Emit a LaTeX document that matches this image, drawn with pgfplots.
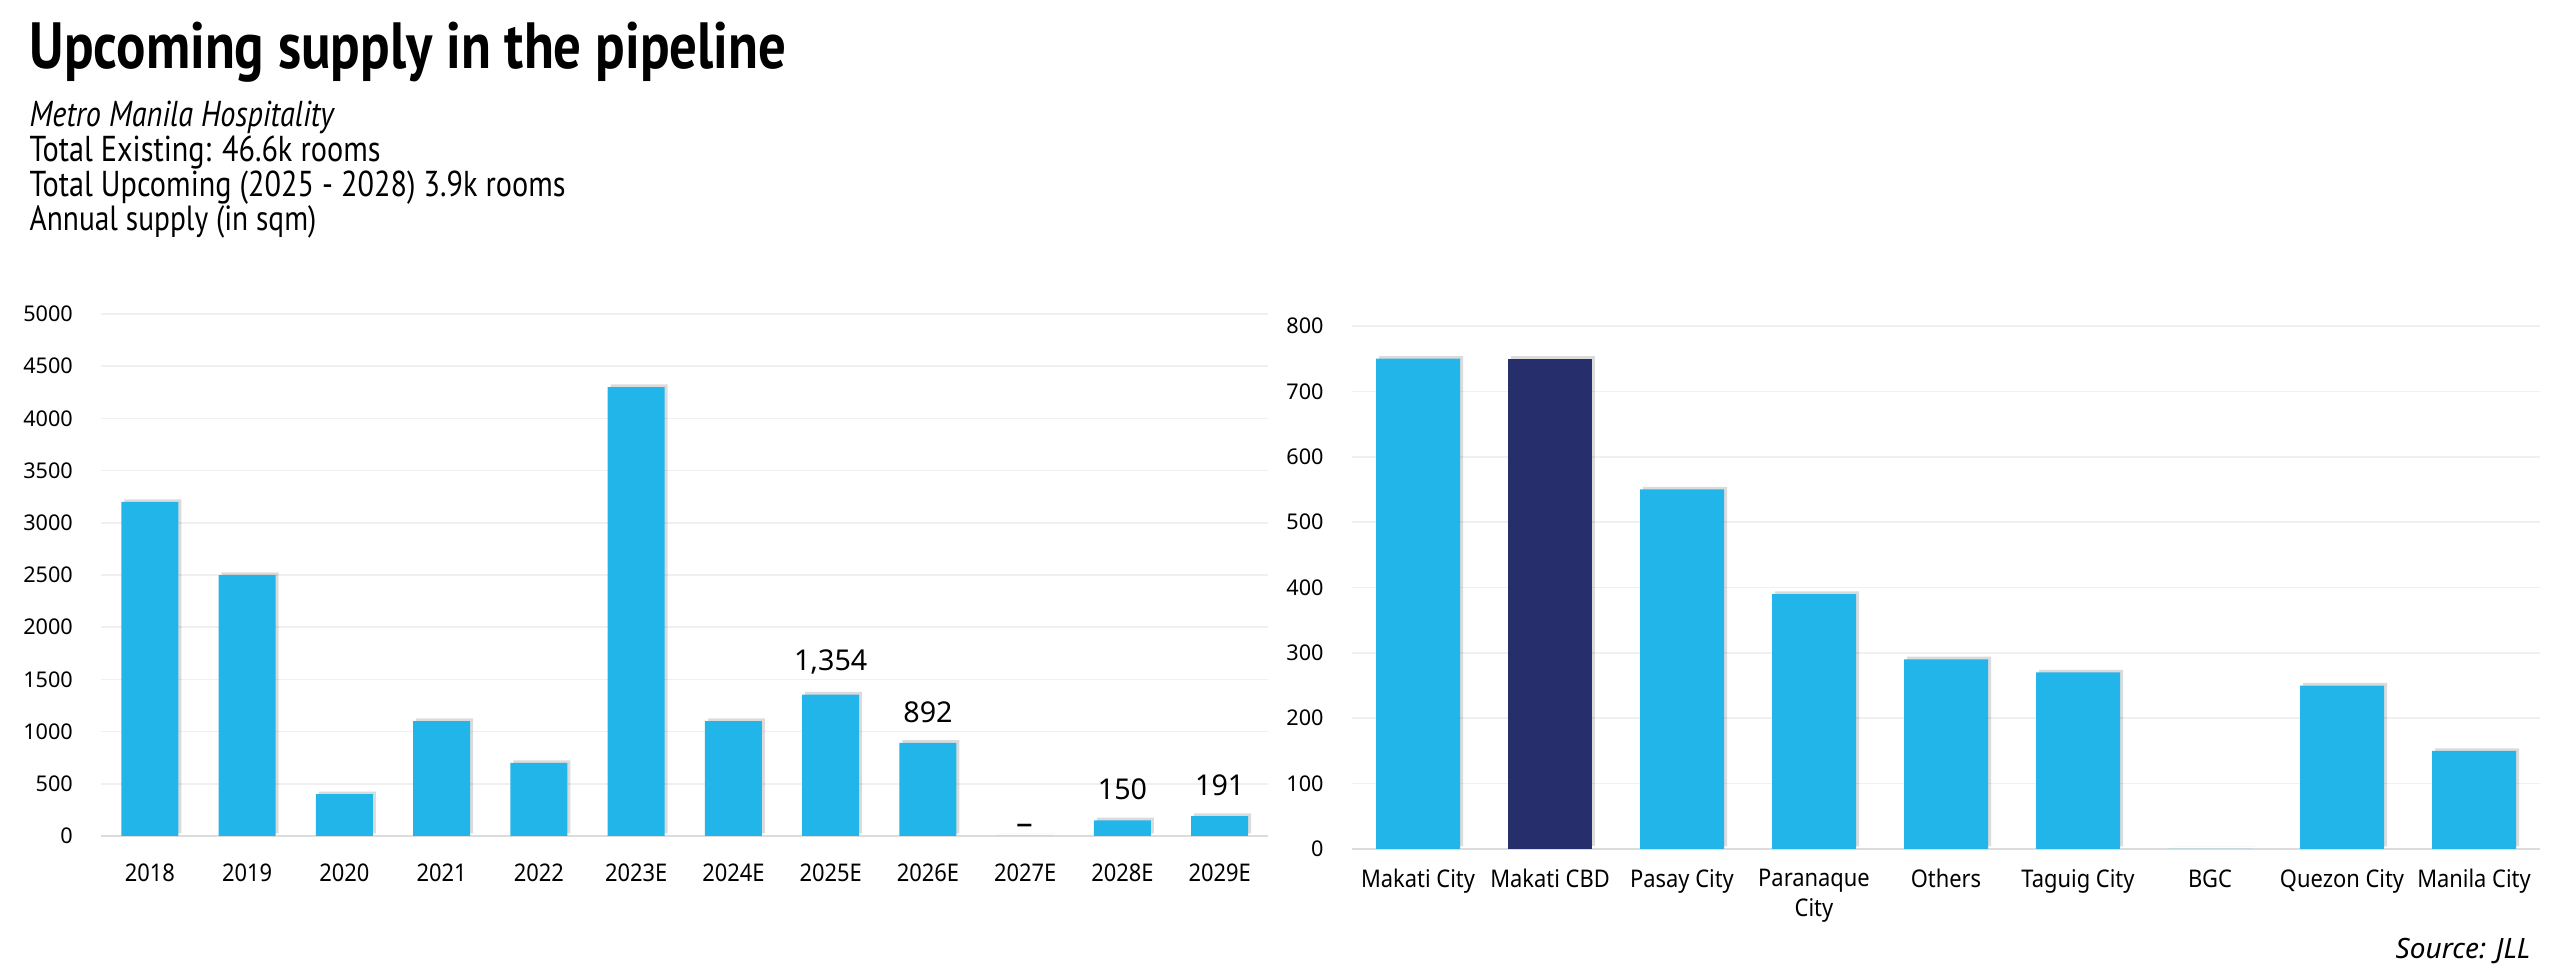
\documentclass[border=0pt]{standalone}
\usepackage{fontspec}
\setmainfont{Noto Sans}
\newfontfamily\condfont{PT Sans}[FakeStretch=0.84]
\newfontfamily\tickfont{Noto Sans}[FakeStretch=0.9]
\usepackage{pgfplots}
\pgfplotsset{compat=1.18}
\usetikzlibrary{shadows}

\definecolor{barblue}{RGB}{34,181,234}
\definecolor{navy}{RGB}{38,47,107}
\definecolor{gridgray}{RGB}{240,240,240}
\definecolor{basegray}{RGB}{220,220,220}

\pgfplotsset{
  supplybars/.style={
    scale only axis,
    anchor=south west,
    axis x line*=bottom, axis y line*=left,
    x axis line style={draw=basegray, line width=0.6pt},
    y axis line style={draw=none},
    ymajorgrids, grid style={draw=gridgray, line width=0.5pt},
    major tick length=0pt,
    yticklabel style={font=\fontsize{6.5}{7.6}\selectfont, xshift=-5pt, /pgf/number format/1000 sep={}},
    xticklabel style={font=\tickfont\fontsize{7.3}{8.8}\selectfont, align=center},
    /pgf/number format/assume math mode=true,
    scaled y ticks=false,
  },
  shadowbar/.style={
    ybar, bar shift=0pt, draw=none,
    drop shadow={shadow xshift=0.9pt, shadow yshift=0.8pt, opacity=0.14, fill=black},
  },
}

\begin{document}
\begin{tikzpicture}
\path[use as bounding box] (0,0) rectangle (768pt,-293.4pt);

% titles
\node[anchor=base west, inner sep=0pt] at (8.7pt,-20.5pt)
  {\condfont\bfseries\fontsize{19.6}{22}\selectfont Upcoming supply in the pipeline};
\node[anchor=base west, inner sep=0pt] at (8.7pt,-38pt)
  {\condfont\itshape\fontsize{10.8}{12}\selectfont Metro Manila Hospitality};
\node[anchor=base west, inner sep=0pt] at (8.7pt,-48.5pt)
  {\condfont\fontsize{10.8}{12}\selectfont Total Existing: 46.6k rooms};
\node[anchor=base west, inner sep=0pt] at (8.7pt,-59pt)
  {\condfont\fontsize{10.8}{12}\selectfont Total Upcoming (2025 - 2028) 3.9k rooms};
\node[anchor=base west, inner sep=0pt] at (8.7pt,-69.3pt)
  {\condfont\fontsize{10.5}{12}\selectfont Annual supply (in sqm)};

% left chart: annual supply
\begin{axis}[supplybars,
  at={(30.4pt,-250.8pt)},
  width=350.1pt, height=156.6pt,
  xmin=-0.5, xmax=11.5,
  ymin=0, ymax=5000, ytick={0,500,...,5000},
  xtick={0,...,11},
  xticklabels={2018,2019,2020,2021,2022,2023E,2024E,2025E,2026E,2027E,2028E,2029E},
  xticklabel style={yshift=-4.8pt},
]
\addplot[shadowbar, fill=barblue, bar width=17.1pt] coordinates {
  (0,3200) (1,2500) (2,400) (3,1100) (4,700) (5,4300)
  (6,1100) (7,1354) (8,892) (9,0) (10,150) (11,191)
};
\addplot[draw=none, mark=none, nodes near coords, point meta=explicit symbolic,
  every node near coord/.append style={font=\fontsize{8.6}{10}\selectfont, anchor=south, yshift=2.5pt}]
  coordinates {
  (7,1354) [{1,354}] (8,892) [892] (10,150) [150] (11,191) [191]
};
\addplot[draw=none, mark=none, nodes near coords, point meta=explicit symbolic,
  every node near coord/.append style={font=\fontsize{10}{11}\selectfont, anchor=south, yshift=-3pt}]
  coordinates {
  (9,0) [–]
};
\end{axis}

% right chart: by location
\begin{axis}[supplybars,
  at={(405.6pt,-254.7pt)},
  width=356.4pt, height=156.9pt,
  xmin=-0.5, xmax=8.5,
  ymin=0, ymax=800, ytick={0,100,...,800},
  xtick={0,...,8},
  xticklabels={Makati City,Makati CBD,Pasay City,Paranaque\\City,Others,Taguig City,BGC,Quezon City,Manila City},
  xticklabel style={yshift=-2.6pt},
]
\addplot[shadowbar, fill=barblue, bar width=25.2pt] coordinates {
  (0,750) (2,550) (3,390) (4,290) (5,270) (6,0) (7,250) (8,150)
};
\addplot[shadowbar, fill=navy, bar width=25.2pt] coordinates {
  (1,750)
};
\end{axis}

\node[anchor=base east, inner sep=0pt] at (759.3pt,-287.4pt)
  {\itshape\fontsize{8.4}{10}\selectfont Source: JLL};
\end{tikzpicture}
\end{document}
